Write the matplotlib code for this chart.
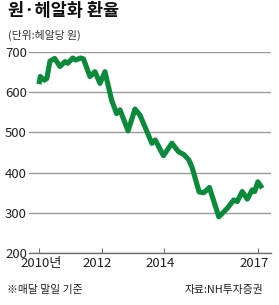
import matplotlib
matplotlib.use("Agg")
import matplotlib.pyplot as plt
from matplotlib.transforms import ScaledTranslation

plt.rcParams['font.family'] = ['Noto Sans CJK KR', 'DejaVu Sans']

# Data (end-of-month KRW per BRL)
dates = [2010.00, 2010.04, 2010.17, 2010.25, 2010.35, 2010.50, 2010.67, 2010.83,
         2010.92, 2011.08, 2011.17, 2011.33, 2011.42, 2011.63, 2011.79, 2011.95,
         2012.11, 2012.32, 2012.48, 2012.59, 2012.85, 2013.07, 2013.23, 2013.61,
         2013.72, 2013.98, 2014.25, 2014.46, 2014.63, 2014.79, 2014.90, 2015.12,
         2015.27, 2015.45, 2015.75, 2016.02, 2016.23, 2016.34, 2016.50, 2016.66,
         2016.82, 2016.90, 2017.00, 2017.14]
rates = [620, 639, 630, 634, 677, 684, 664, 676,
         672, 685, 680, 685, 683, 639, 651, 622,
         651, 581, 547, 556, 504, 558, 543, 473,
         481, 442, 473, 452, 445, 432, 412, 352,
         350, 363, 290, 311, 332, 328, 353, 334,
         357, 353, 377, 361]

yticks = [200, 300, 400, 500, 600, 700]
xticks = [2010, 2012, 2014, 2017]
xlabels = ['2010년', '2012', '2014', '2017']

W, H = 279, 305
fig = plt.figure(figsize=(W / 100, H / 100), dpi=100)
ax = fig.add_axes([29 / W, 1 - 253 / H, (271 - 29) / W, (253 - 52) / H])

ax.plot(dates, rates, color='#0b8a3c', lw=3.7, solid_joinstyle='round',
        solid_capstyle='butt', clip_on=False, zorder=3)

ax.set_xlim(2009.68, 2017.42)
ax.set_ylim(200, 700)
ax.set_yticks(yticks)
ax.set_yticklabels([str(v) for v in yticks])
ax.grid(axis='y', color='#9a9a9a', lw=1.0)
ax.set_axisbelow(True)

for s in ['top', 'right', 'left']:
    ax.spines[s].set_visible(False)
ax.spines['bottom'].set_color('#6e6e6e')
ax.spines['bottom'].set_linewidth(1.0)

ax.tick_params(axis='y', length=0, pad=1.5, labelsize=9.5, labelcolor='#222222')
ax.set_xticks(xticks)
ax.set_xticklabels(xlabels)
ax.tick_params(axis='x', direction='in', length=3.5, width=0.8, color='#6e6e6e',
               pad=3.0, labelsize=9.5, labelcolor='#222222')
for i, lab in enumerate(ax.get_xticklabels()):
    dx = 2.5 if i == 0 else -4
    lab.set_transform(lab.get_transform() + ScaledTranslation(dx / 100, 0, fig.dpi_scale_trans))

fig.text(8 / W, 1 - 11 / H, '원·헤알화 환율', fontsize=12.6, fontweight='bold',
         color='#111111', ha='left', va='center')
fig.text(8 / W, 1 - 35 / H, '(단위:헤알당 원)', fontsize=7.8,
         color='#333333', ha='left', va='center')
fig.text(7 / W, 1 - 290 / H, '※매달 말일 기준', fontsize=7.8,
         color='#222222', ha='left', va='center')
fig.text(263 / W, 1 - 290 / H, '자료:NH투자증권', fontsize=7.8,
         color='#222222', ha='right', va='center')

fig.savefig('out.png', dpi=100)
